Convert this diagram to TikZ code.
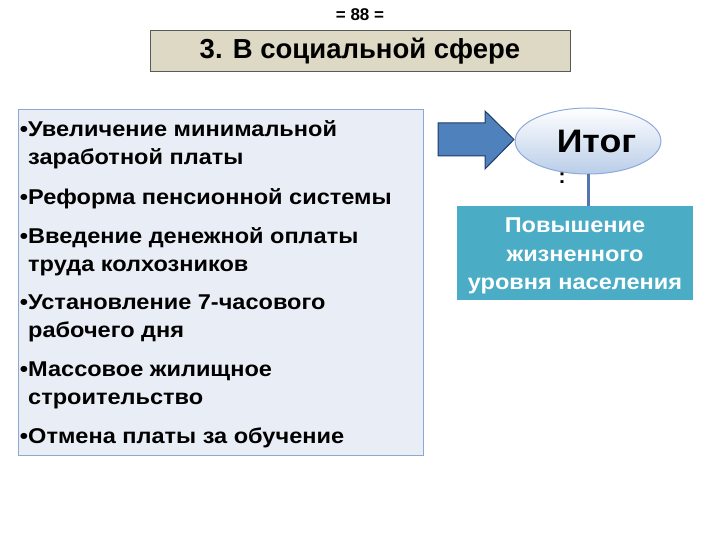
\documentclass[tikz,border=0pt]{standalone}
\usepackage{fontspec}
\setmainfont{Liberation Sans}
\newfontfamily\widefont{Liberation Sans}[FakeStretch=1.1]
\usetikzlibrary{shapes.geometric,positioning}

\definecolor{titlefill}{HTML}{DDD9C4}
\definecolor{listfill}{HTML}{E9EDF5}
\definecolor{listedge}{HTML}{8EA9CF}
\definecolor{arrowfill}{HTML}{4F81BD}
\definecolor{arrowedge}{HTML}{1F3B66}
\definecolor{ovaledge}{HTML}{8EA9DB}
\definecolor{ovalfill}{HTML}{B9CDE8}
\definecolor{linkcol}{HTML}{5277B0}
\definecolor{resfill}{HTML}{4BACC6}

\tikzset{
  item/.style={anchor=base west, align=left, inner sep=0pt,
    font=\widefont\fontsize{21.4}{28}\selectfont\bfseries},
}

\begin{document}
\begin{tikzpicture}[x=1pt, y=-1pt]
    \useasboundingbox (0,0) rectangle (720,540);

    % Page number and title
    \node[font=\fontsize{17}{19}\selectfont\bfseries] (page) at (360,15) {= 88 =};
    \node[draw=black!65, fill=titlefill, line width=1pt, minimum width=420, minimum height=41,
          font=\fontsize{27.5}{30}\selectfont\bfseries] (title) at (360,51.5) {3. В социальной сфере};

    % List of measures
    \node[draw=listedge, fill=listfill, line width=1pt, minimum width=405, minimum height=345]
          (list) at (220.5,282.5) {};
    \foreach \y/\txt in {164.5/Увеличение минимальной\\заработной платы,
                         204.5/Реформа пенсионной системы,
                         271/Введение денежной оплаты\\труда колхозников,
                         337.5/Установление 7-часового\\рабочего дня,
                         404/Массовое жилищное\\строительство,
                         443/Отмена платы за обучение}
        \node[item] at (28,\y) {\llap{•}\txt};

    % Arrow
    \draw[draw=arrowedge, fill=arrowfill, line width=1pt]
        (438,123) -- (485,123) -- (485,111) -- (514,139.5) -- (485,169) -- (485,156) -- (438,156) -- cycle;

    % Result
    \node[ellipse, draw=ovaledge, line width=1pt, top color=white, bottom color=ovalfill,
          minimum width=144, minimum height=66,
          font=\widefont\fontsize{32.5}{34}\selectfont\bfseries] (itog) at (588,141) {\hspace{17pt}Итог};
    \node[font=\fontsize{21}{24}\selectfont\bfseries, inner sep=0pt] (colon) at (562,178) {:};
    \node[fill=resfill, minimum width=236, minimum height=94, align=center, text=white,
          font=\widefont\fontsize{21.4}{28.5}\selectfont\bfseries] (result) at (575,253)
          {\\[-8pt]Повышение\\жизненного\\уровня населения};
    \draw[linkcol, line width=3pt] (itog) -- (result.north -| itog);
\end{tikzpicture}
\end{document}
